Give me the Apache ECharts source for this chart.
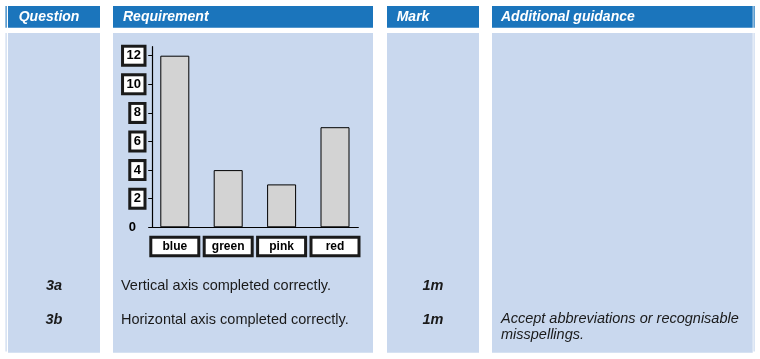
<!DOCTYPE html>
<html>
<head>
<meta charset="utf-8">
<script src="https://cdn.jsdelivr.net/npm/echarts@6/dist/echarts.min.js"></script>
<style>html,body{margin:0;padding:0;background:#fff;}#c{width:760px;height:359px;}</style>
</head>
<body>
<div id="c"></div>
<script>
// ---- data ----
const categories = ['blue', 'green', 'pink', 'red'];
const values = [12, 4, 3, 7];
const yMin = 0, yMax = 12, yStep = 2;

const headers = ['Question', 'Requirement', 'Mark', 'Additional guidance'];
const questions = ['3a', '3b'];
const requirements = ['Vertical axis completed correctly.', 'Horizontal axis completed correctly.'];
const marks = ['1m', '1m'];
const guidance = ['', 'Accept abbreviations or recognisable\nmisspellings.'];

// ---- styles ----
const HEAD = '#1b75bc';
const BODY = '#c9d8ee';
const FONT = '"Liberation Sans", Arial, sans-serif';

const cols = [[8, 100], [113, 373], [387, 479], [492, 752.7]];
const headTextX = [18.7, 123, 396.7, 501];
const rowY = [285.5, 319.5];

const graphics = [];
// thin side lines
graphics.push({type: 'rect', shape: {x: 5.5, y: 6, width: 1.2, height: 21.7}, style: {fill: HEAD}, silent: true});
graphics.push({type: 'rect', shape: {x: 5.5, y: 33, width: 1.2, height: 318.5}, style: {fill: BODY}, silent: true});
graphics.push({type: 'rect', shape: {x: 753.5, y: 6, width: 1.2, height: 21.7}, style: {fill: HEAD}, silent: true});
graphics.push({type: 'rect', shape: {x: 753.5, y: 33, width: 1.2, height: 318.5}, style: {fill: BODY}, silent: true});
cols.forEach((c, i) => {
  graphics.push({type: 'rect', z: -10, shape: {x: c[0], y: 6, width: c[1] - c[0], height: 21.7}, style: {fill: HEAD}, silent: true});
  graphics.push({type: 'rect', z: -10, shape: {x: c[0], y: 33, width: c[1] - c[0], height: 319.7}, style: {fill: BODY}, silent: true});
  graphics.push({type: 'text', x: headTextX[i], y: 17, style: {text: headers[i], fill: '#fff', font: 'italic bold 14px ' + FONT, textVerticalAlign: 'middle', textAlign: 'left'}, silent: true});
});
questions.forEach((q, r) => {
  graphics.push({type: 'text', x: 54, y: rowY[r], style: {text: q, fill: '#1a1a1a', font: 'italic bold 14.5px ' + FONT, textAlign: 'center', textVerticalAlign: 'middle'}, silent: true});
  graphics.push({type: 'text', x: 121, y: rowY[r], style: {text: requirements[r], fill: '#1a1a1a', font: '14.5px ' + FONT, textAlign: 'left', textVerticalAlign: 'middle'}, silent: true});
  graphics.push({type: 'text', x: 433, y: rowY[r], style: {text: marks[r], fill: '#1a1a1a', font: 'italic bold 14.5px ' + FONT, textAlign: 'center', textVerticalAlign: 'middle'}, silent: true});
  if (guidance[r]) {
    graphics.push({type: 'text', x: 501, y: rowY[r] - 8, style: {text: guidance[r], fill: '#1a1a1a', font: 'italic 14.5px ' + FONT, lineHeight: 15.5, textAlign: 'left', textVerticalAlign: 'top'}, silent: true});
  }
});

const chart = echarts.init(document.getElementById('c'), null, {renderer: 'canvas'});
chart.setOption({
  animation: false,
  backgroundColor: 'transparent',
  graphic: {elements: graphics},
  grid: [
    {left: 152.7, top: 46.7, width: 205.6, height: 180.6},
    {left: 152.7, top: 55.7, width: 205.6, height: 171.6},
    {left: 148.1, top: 55.7, width: 213.6, height: 171.6}
  ],
  xAxis: [
    {gridIndex: 0, type: 'value', min: 0, max: 1, axisLine: {show: true, lineStyle: {color: '#000', width: 1.2}}, axisTick: {show: false}, axisLabel: {show: false}, splitLine: {show: false}},
    {gridIndex: 1, type: 'value', min: 0, max: 1, show: false},
    {gridIndex: 2, type: 'category', data: categories,
      axisLine: {show: false}, axisTick: {show: false}, splitLine: {show: false},
      axisLabel: {
        margin: 11.5, interval: 0,
        formatter: v => '{b|' + v + '}',
        rich: {b: {fontFamily: FONT, fontWeight: 'bold', fontSize: 12, color: '#000', backgroundColor: '#fff', borderColor: '#1a1a1a', borderWidth: 3, width: 45, height: 15.5, lineHeight: 15.5, align: 'center'}}
      }}
  ],
  yAxis: [
    {gridIndex: 0, type: 'value', min: 0, max: 1, axisLine: {show: true, lineStyle: {color: '#000', width: 1.2}}, axisTick: {show: false}, axisLabel: {show: false}, splitLine: {show: false}},
    {gridIndex: 1, type: 'value', min: yMin, max: yMax, interval: yStep,
      axisLine: {show: false}, splitLine: {show: false},
      axisTick: {show: true, length: 4.5, inside: false, lineStyle: {color: '#000', width: 1}},
      axisLabel: {
        margin: 9.2,
        formatter: v => v === 0 ? '{z|0}' : '{b|' + v + '}',
        rich: {
          b: {fontFamily: FONT, fontWeight: 'bold', fontSize: 13, color: '#000', backgroundColor: '#fff', borderColor: '#1a1a1a', borderWidth: 3, padding: [1.5, 2.5, 1.5, 2.5], lineHeight: 14},
          z: {fontFamily: FONT, fontWeight: 'bold', fontSize: 13, color: '#000', padding: [1.5, 7.5, 1.5, 2.5], lineHeight: 14}
        }
      }},
    {gridIndex: 2, type: 'value', min: yMin, max: yMax, show: false}
  ],
  series: [{
    type: 'bar', xAxisIndex: 2, yAxisIndex: 2, data: values, barWidth: 29,
    itemStyle: {color: '#d3d3d3', borderColor: '#000', borderWidth: 1}
  }]
});
</script>
</body>
</html>
